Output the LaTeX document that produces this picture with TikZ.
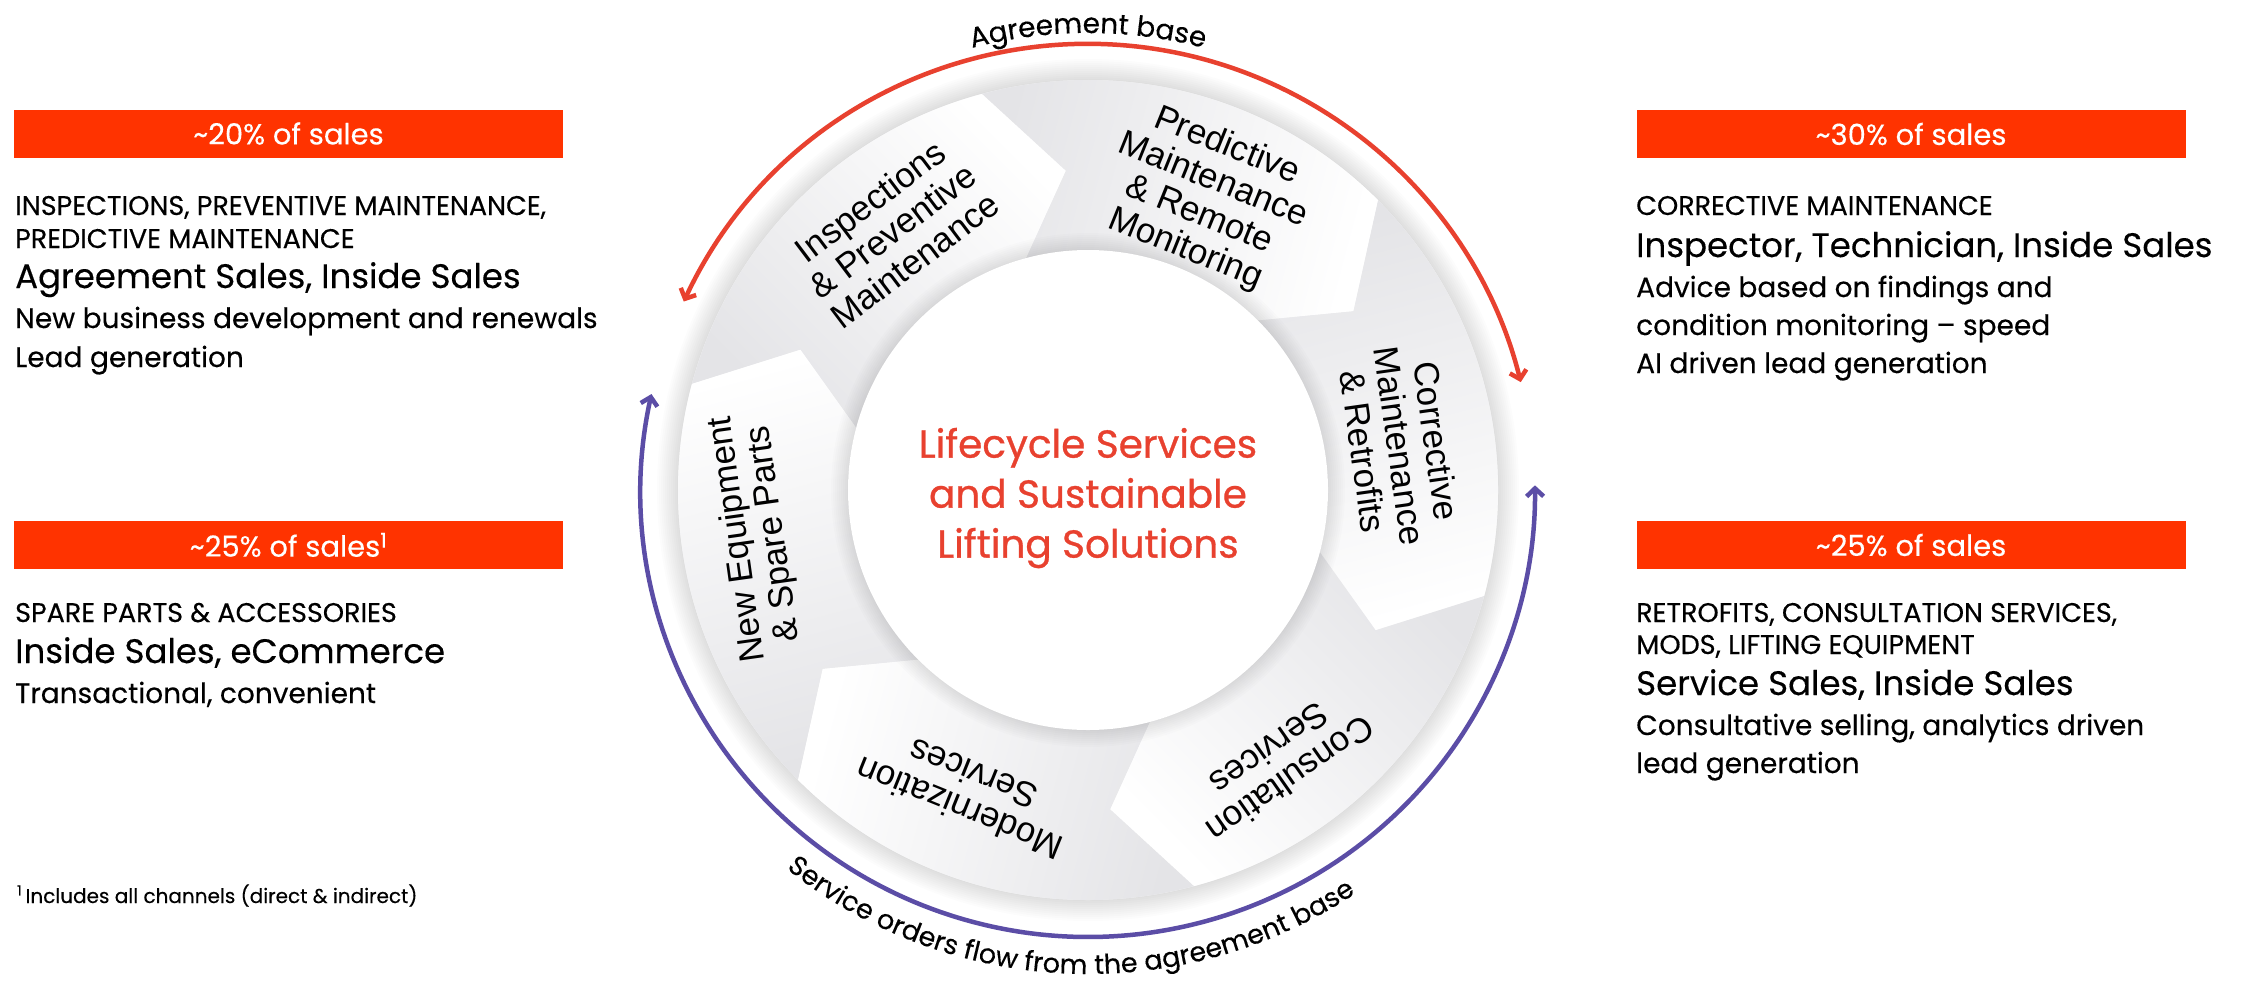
\documentclass[tikz,border=0pt]{standalone}
\usepackage{fontspec}
\setmainfont{Poppins}[FakeBold=0.3]
\newfontfamily\ringfamily{Liberation Sans}
\usetikzlibrary{arrows.meta,decorations.text}

\definecolor{salesred}{HTML}{FF3300}
\definecolor{lifered}{HTML}{E8412F}
\definecolor{orderblue}{HTML}{5B4DA6}
\definecolor{ringgray}{HTML}{E4E4E7}

\newcommand\barfont{\fontsize{29}{33}\selectfont}
\newcommand\capsfont{\fontsize{27}{30}\selectfont}
\newcommand\rolefont{\fontsize{34}{38}\selectfont}
\newcommand\descfont{\fontsize{28}{32}\selectfont}
\newcommand\notefont{\fontsize{20}{24}\selectfont}
\newcommand\arcfont{\fontsize{28}{32}\selectfont}
\newcommand\flowfont{\fontsize{27}{31}\selectfont}
\newcommand\corefont{\addfontfeatures{FakeBold=0.8}\fontsize{39}{50}\selectfont}
\newcommand\segfont{\ringfamily\fontsize{35}{37}\selectfont}

\begin{document}
\begin{tikzpicture}[x=1pt,y=1pt,
  salesbar/.style={fill=salesred, text=white, minimum width=549pt, minimum height=48pt, inner sep=0pt, font=\barfont},
  capsline/.style={anchor=base west, inner sep=0pt, font=\capsfont},
  roleline/.style={anchor=base west, inner sep=0pt, font=\rolefont},
  descline/.style={anchor=base west, inner sep=0pt, font=\descfont},
  seglabel/.style={align=center, inner sep=0pt, font=\segfont},
  flowarc/.style={line width=4.5pt, <->, >={Straight Barb[length=8pt,width=17pt]}}]
  \useasboundingbox[fill=white] (0,0) rectangle (2242,-983);

  % Left column
  \node[salesbar] (bar20) at (288.5,-133.5) {\textasciitilde 20\% of sales};
  \node[capsline] (insp1) at (15,-215) {INSPECTIONS, PREVENTIVE MAINTENANCE,};
  \node[capsline] (insp2) at (15,-248) {PREDICTIVE MAINTENANCE};
  \node[roleline] (insprole) at (15,-288) {Agreement Sales, Inside Sales};
  \node[descline] (inspdesc1) at (15,-328) {New business development and renewals};
  \node[descline] (inspdesc2) at (15,-367) {Lead generation};

  \node[salesbar] (bar25a) at (288.5,-545) {\textasciitilde 25\% of sales\textsuperscript{1}};
  \node[capsline] (spare1) at (15,-622) {SPARE PARTS \& ACCESSORIES};
  \node[roleline] (sparerole) at (15,-663) {Inside Sales, eCommerce};
  \node[descline] (sparedesc) at (15,-703) {Transactional, convenient};

  \node[anchor=base west, inner sep=0pt, font=\notefont] (note) at (17,-903) {\textsuperscript{1}\,Includes all channels (direct \& indirect)};

  % Right column
  \node[salesbar] (bar30) at (1911,-134) {\textasciitilde 30\% of sales};
  \node[capsline] (corr1) at (1636,-215) {CORRECTIVE MAINTENANCE};
  \node[roleline] (corrrole) at (1636,-257) {Inspector, Technician, Inside Sales};
  \node[descline] (corrdesc1) at (1636,-297) {Advice based on findings and};
  \node[descline] (corrdesc2) at (1636,-335) {condition monitoring – speed};
  \node[descline] (corrdesc3) at (1636,-373) {AI driven lead generation};

  \node[salesbar] (bar25b) at (1911,-545) {\textasciitilde 25\% of sales};
  \node[capsline] (retro1) at (1636,-622) {RETROFITS, CONSULTATION SERVICES,};
  \node[capsline] (retro2) at (1636,-654) {MODS, LIFTING EQUIPMENT};
  \node[roleline] (retrorole) at (1636,-695) {Service Sales, Inside Sales};
  \node[descline] (retrodesc1) at (1636,-735) {Consultative selling, analytics driven};
  \node[descline] (retrodesc2) at (1636,-773) {lead generation};

  % Service wheel
  \begin{scope}[shift={(1088,-490)}]
    \foreach \r in {411,413,...,431}
      \fill[black, opacity=0.01] (0,0) circle[radius=\r pt];
    \fill[ringgray!35, even odd rule] (0,0) circle[radius=410pt] (0,0) circle[radius=240pt];
    \foreach \a in {-15,45,105,165,225,285} {
      \pgfmathsetmacro\b{\a+60}
      \pgfmathsetmacro\sa{\a-150}
      \shade[top color=white, bottom color=ringgray, shading angle=\sa]
        (\b:410pt) arc[start angle=\b, end angle=\a, radius=410pt]
        -- (\a-11:320pt) -- (\a:240pt)
        arc[start angle=\a, end angle=\b, radius=240pt]
        -- (\b-11:320pt) -- cycle;
    }
    \foreach \r in {241,243,...,257}
      \fill[black, opacity=0.012] (0,0) circle[radius=\r pt];
    \fill[white] (0,0) circle[radius=240pt];

    \node[align=center, text=lifered, font=\corefont] (core) at (0,-8) {Lifecycle Services\\and Sustainable\\Lifting Solutions};

    \node[seglabel, rotate=37] (inspect) at (127:325pt) {Inspections\\\& Preventive\\Maintenance};
    \node[seglabel, rotate=-22] (predict) at (68:315pt) {Predictive\\Maintenance\\\& Remote\\Monitoring};
    \node[seglabel, rotate=-82] (correct) at (8:315pt) {Corrective\\Maintenance\\\& Retrofits};
    \node[seglabel, rotate=-145] (consult) at (-55:335pt) {Consultation\\Services};
    \node[seglabel, rotate=158] (modern) at (248:325pt) {Modernization\\Services};
    \node[seglabel, rotate=98] (neweq) at (188:335pt) {New Equipment\\\& Spare Parts};

    % flows round the wheel
    \draw[flowarc, lifered] (155:446pt) arc[start angle=155, end angle=14, radius=446pt];
    \draw[flowarc, orderblue] (167.6:447pt) arc[start angle=167.6, end angle=360.6, radius=447pt];

    \path[decorate, decoration={text along path, text align=center,
      text={|\arcfont|Agreement base}}]
      (120:457pt) arc[start angle=120, end angle=60, radius=457pt];
    \path[decorate, decoration={text along path, text align=center,
      text={|\flowfont|Service orders flow from the agreement base}}]
      (222.5:484pt) arc[start angle=222.5, end angle=312.5, radius=484pt];
  \end{scope}
\end{tikzpicture}
\end{document}
